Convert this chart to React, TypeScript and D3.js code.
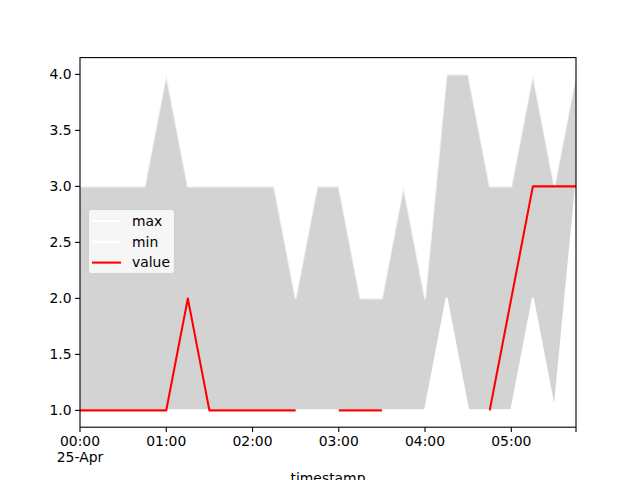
import React from "react";
import * as d3 from "d3";

const times: string[] = [
  "00:00","00:15","00:30","00:45","01:00","01:15","01:30","01:45",
  "02:00","02:15","02:30","02:45","03:00","03:15","03:30","03:45",
  "04:00","04:15","04:30","04:45","05:00","05:15","05:30","05:45",
];
const maxVals: number[] = [3,3,3,3,4,3,3,3,3,3,2,3,3,2,2,3,2,4,4,3,3,4,3,4];
const minVals: number[] = [1,1,1,1,1,1,1,1,1,1,1,1,1,1,1,1,1,2,1,1,1,2,1,3];
const values: (number | null)[] = [1,1,1,1,1,2,1,1,1,1,1,null,1,1,1,null,null,null,null,1,2,3,3,3];
const yTicks: number[] = [1.0,1.5,2.0,2.5,3.0,3.5,4.0];
const xTickLabels: string[] = ["00:00","01:00","02:00","03:00","04:00","05:00"];

const W = 640, H = 480;
const L = 80, R = 576, T = 57.6, B = 427.2;
const FONT = "DejaVu Sans, sans-serif";

const toDate = (s: string) => {
  const [h, m] = s.split(":").map(Number);
  return new Date(2020, 3, 25, h, m);
};

export default function App() {
  const dates = times.map(toDate);
  const x = d3.scaleTime().domain([dates[0], dates[dates.length - 1]]).range([L, R]);
  const y = d3.scaleLinear().domain([0.85, 4.15]).range([B, T]);

  const area = d3.area<number>()
    .x((i) => x(dates[i]))
    .y0((i) => y(minVals[i]))
    .y1((i) => y(maxVals[i]));
  const idx = dates.map((_, i) => i);
  const lineMax = d3.line<number>().x((i) => x(dates[i])).y((i) => y(maxVals[i]));
  const lineMin = d3.line<number>().x((i) => x(dates[i])).y((i) => y(minVals[i]));
  const lineVal = d3.line<number>()
    .defined((i) => values[i] !== null)
    .x((i) => x(dates[i]))
    .y((i) => y(values[i] as number));

  return (
    <svg width={W} height={H} style={{ position: "absolute", left: 0, top: 0, fontFamily: FONT }}>
      <rect x={0} y={0} width={W} height={H} fill="#fff" />
      <defs>
        <clipPath id="clip">
          <rect x={L} y={T} width={R - L} height={B - T} />
        </clipPath>
      </defs>
      <g clipPath="url(#clip)">
        <path d={area(idx) || ""} fill="#d3d3d3" />
        <path d={lineMax(idx) || ""} fill="none" stroke="#ffffff" strokeOpacity={0.6} strokeWidth={2.08} strokeLinejoin="round" />
        <path d={lineMin(idx) || ""} fill="none" stroke="#ffffff" strokeWidth={2.08} strokeLinejoin="round" />
        <path d={lineVal(idx) || ""} fill="none" stroke="#ff0000" strokeWidth={2.08} strokeLinejoin="round" />
      </g>
      <rect x={L} y={T} width={R - L} height={B - T} fill="none" stroke="#000" strokeWidth={1.1} />
      {yTicks.map((t) => (
        <g key={t}>
          <line x1={L - 4.9} x2={L} y1={y(t)} y2={y(t)} stroke="#000" strokeWidth={1.1} />
          <text x={L - 8.5} y={y(t)} dy="0.35em" textAnchor="end" fontSize={13.9} fill="#000">
            {t.toFixed(1)}
          </text>
        </g>
      ))}
      {xTickLabels.map((s, i) => {
        const px = x(toDate(s));
        return (
          <g key={s}>
            <line x1={px} x2={px} y1={B} y2={B + 4.9} stroke="#000" strokeWidth={1.1} />
            <text x={px} y={B + 19} textAnchor="middle" fontSize={13.9} fill="#000">{s}</text>
            {i === 0 && (
              <text x={px} y={B + 35} textAnchor="middle" fontSize={13.9} fill="#000">25-Apr</text>
            )}
          </g>
        );
      })}
      <line x1={R} x2={R} y1={B} y2={B + 4.9} stroke="#000" strokeWidth={1.1} />
      <text x={(L + R) / 2} y={B + 56} textAnchor="middle" fontSize={13.9} fill="#000">timestamp</text>
      <g>
        <rect x={88.5} y={209.5} width={86} height={64} rx={2.5} fill="#ffffff" fillOpacity={0.8} stroke="#cccccc" strokeOpacity={0.8} strokeWidth={1.1} />
        {[
          { label: "max", color: "#ffffff" },
          { label: "min", color: "#ffffff" },
          { label: "value", color: "#ff0000" },
        ].map((e, i) => {
          const yy = 221 + i * 20.8;
          return (
            <g key={e.label}>
              <line x1={92} x2={121} y1={yy} y2={yy} stroke={e.color} strokeWidth={2.08} />
              <text x={132} y={yy} dy="0.35em" fontSize={13.9} fill="#000">{e.label}</text>
            </g>
          );
        })}
      </g>
    </svg>
  );
}
